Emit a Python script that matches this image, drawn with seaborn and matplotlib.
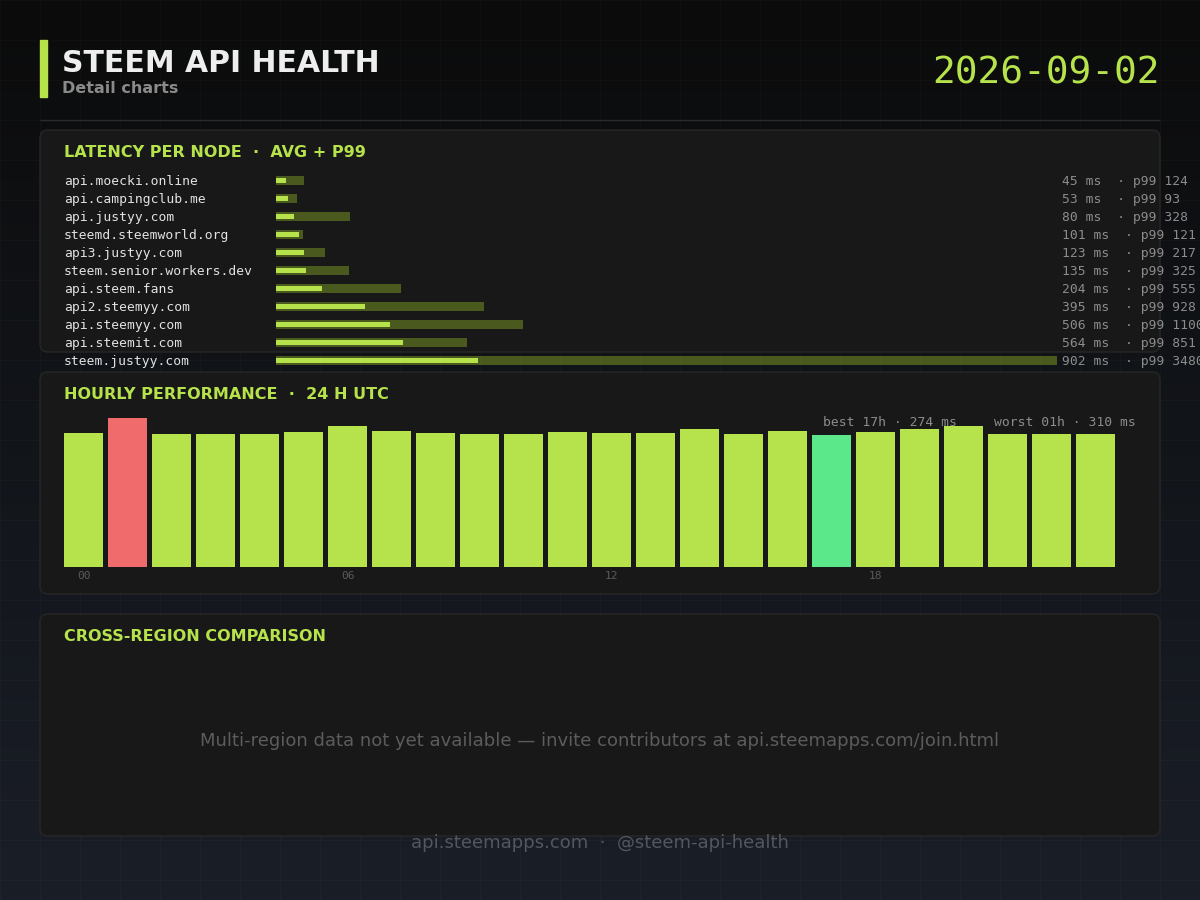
import numpy as np
import pandas as pd
import matplotlib.pyplot as plt
import matplotlib.transforms as mtransforms
from matplotlib.patches import FancyBboxPatch, Rectangle
from matplotlib.colors import LinearSegmentedColormap
import seaborn as sns

# ---- data ----
nodes = ['api.moecki.online', 'api.campingclub.me', 'api.justyy.com',
         'steemd.steemworld.org', 'api3.justyy.com', 'steem.senior.workers.dev',
         'api.steem.fans', 'api2.steemyy.com', 'api.steemyy.com',
         'api.steemit.com', 'steem.justyy.com']
avg_ms = [45, 53, 80, 101, 123, 135, 204, 395, 506, 564, 902]
p99_ms = [124, 93, 328, 121, 217, 325, 555, 928, 1100, 851, 3480]

hours = ['%02d' % h for h in range(24)]
hourly_ms = [279, 310, 277, 277, 276, 281, 293, 283, 279, 277, 277, 281,
             279, 279, 287, 277, 283, 274, 281, 287, 293, 276, 277, 277]
hour_ticks = ['00', '06', '12', '18']

report_date = '2026-09-02'

# ---- colours ----
LIME = '#b6e34b'
OLIVE = '#4a5a1f'
RED = '#f06c6c'
MINT = '#5be88a'
PANEL = '#181818'
MONO = 'DejaVu Sans Mono'

sns.set_theme(style='white')
plt.rcParams['font.family'] = ['DejaVu Sans']

fig = plt.figure(figsize=(12, 9), dpi=100)

# background canvas in pixel units
bg = fig.add_axes([0, 0, 1, 1])
bg.set_xlim(0, 1200)
bg.set_ylim(900, 0)
bg.axis('off')
grad = LinearSegmentedColormap.from_list('bg', ['#0b0b0b', '#12151a', '#1a1e27'])
bg.imshow(np.linspace(0, 1, 256).reshape(-1, 1), extent=[0, 1200, 900, 0],
          cmap=grad, aspect='auto', zorder=0)
bg.vlines(range(0, 1201, 40), 0, 900, color='white', alpha=0.025, lw=1, zorder=1)
bg.hlines(range(0, 901, 40), 0, 1200, color='white', alpha=0.025, lw=1, zorder=1)

# header
bg.add_patch(Rectangle((40, 40), 6.5, 57, color=LIME, zorder=3))
bg.text(62, 72, 'STEEM API HEALTH', fontsize=21.5, fontweight='bold',
        color='#eeeeee', va='baseline', zorder=3)
bg.text(62, 93, 'Detail charts', fontsize=11.5, fontweight='bold',
        color='#8a8a8a', va='baseline', zorder=3)
bg.text(1160, 84, report_date, fontsize=27.3, family=MONO, color=LIME,
        ha='right', va='baseline', zorder=3)
bg.hlines(120, 40, 1160, color='#2c2c2c', lw=1, zorder=2)

# panels
panel_titles = ['LATENCY PER NODE  ·  AVG + P99', 'HOURLY PERFORMANCE  ·  24 H UTC',
                'CROSS-REGION COMPARISON']
for y0, title in zip([130, 372, 614], panel_titles):
    bg.add_patch(FancyBboxPatch((40, y0), 1120, 222,
                                boxstyle='round,pad=0,rounding_size=8',
                                fc=PANEL, ec='#272727', lw=1, zorder=2))
    bg.text(64, y0 + 27, title, fontsize=11.5, fontweight='bold', color=LIME,
            va='baseline', zorder=3)

bg.text(600, 741, 'Multi-region data not yet available \u2014 invite contributors at api.steemapps.com/join.html',
        fontsize=13, color='#5c5c5c', ha='center', va='center', zorder=3)
bg.text(600, 843, 'api.steemapps.com  ·  @steem-api-health', fontsize=13,
        color='#53575f', ha='center', va='center', zorder=3)

# ---- latency per node: p99 track + avg bar ----
df_lat = pd.DataFrame({'node': nodes, 'avg': avg_ms, 'p99': p99_ms})
ax1 = fig.add_axes([276 / 1200, (900 - 369.5) / 900, 781 / 1200, 198 / 900])
ax1.patch.set_alpha(0)
sns.barplot(data=df_lat, x='p99', y='node', orient='h', color=OLIVE,
            width=0.47, saturation=1, linewidth=0, edgecolor='none', ax=ax1)
sns.barplot(data=df_lat, x='avg', y='node', orient='h', color=LIME,
            width=0.26, saturation=1, linewidth=0, edgecolor='none', ax=ax1)
ax1.set_xlim(0, max(p99_ms))
ax1.set_ylim(len(nodes) - 0.5, -0.5)
ax1.set_axis_off()

tr = mtransforms.blended_transform_factory(bg.transData, ax1.transData)
for i, row in df_lat.iterrows():
    ax1.text(64, i + 0.08, row['node'], transform=tr, family=MONO, fontsize=9.4,
             color='#e2e2e2', va='center', clip_on=False)
    ax1.text(1062, i + 0.08, '%d ms  · p99 %d' % (row['avg'], row['p99']),
             transform=tr, family=MONO, fontsize=9.4, color='#8c8c8c',
             va='center', clip_on=False)

# ---- hourly performance ----
worst = int(np.argmax(hourly_ms))
best = int(np.argmin(hourly_ms))
bar_colors = [RED if i == worst else MINT if i == best else LIME for i in range(24)]

ax2 = fig.add_axes([61.5 / 1200, (900 - 567) / 900, 1056 / 1200, 158.6 / 900])
ax2.patch.set_alpha(0)
sns.barplot(x=hours, y=hourly_ms, hue=hours, palette=bar_colors, legend=False,
            width=0.886, saturation=1, linewidth=0, edgecolor='none', ax=ax2)
ax2.set_ylim(0, 330)
ax2.set_xlim(-0.5, 23.5)
ax2.set_xticks([hours.index(h) for h in hour_ticks])
ax2.set_xticklabels(hour_ticks, family=MONO, fontsize=8, color='#5a5a5a')
ax2.set_yticks([])
ax2.tick_params(axis='x', length=0, pad=3)
ax2.set_xlabel('')
ax2.set_ylabel('')
for s in ax2.spines.values():
    s.set_visible(False)

bg.text(823, 423, 'best %sh · %d ms' % (hours[best], hourly_ms[best]),
        family=MONO, fontsize=9.4, color='#8c8c8c', va='center', zorder=3)
bg.text(1136, 423, 'worst %sh · %d ms' % (hours[worst], hourly_ms[worst]),
        family=MONO, fontsize=9.4, color='#8c8c8c', ha='right', va='center', zorder=3)

fig.savefig('out.png', dpi=100)
